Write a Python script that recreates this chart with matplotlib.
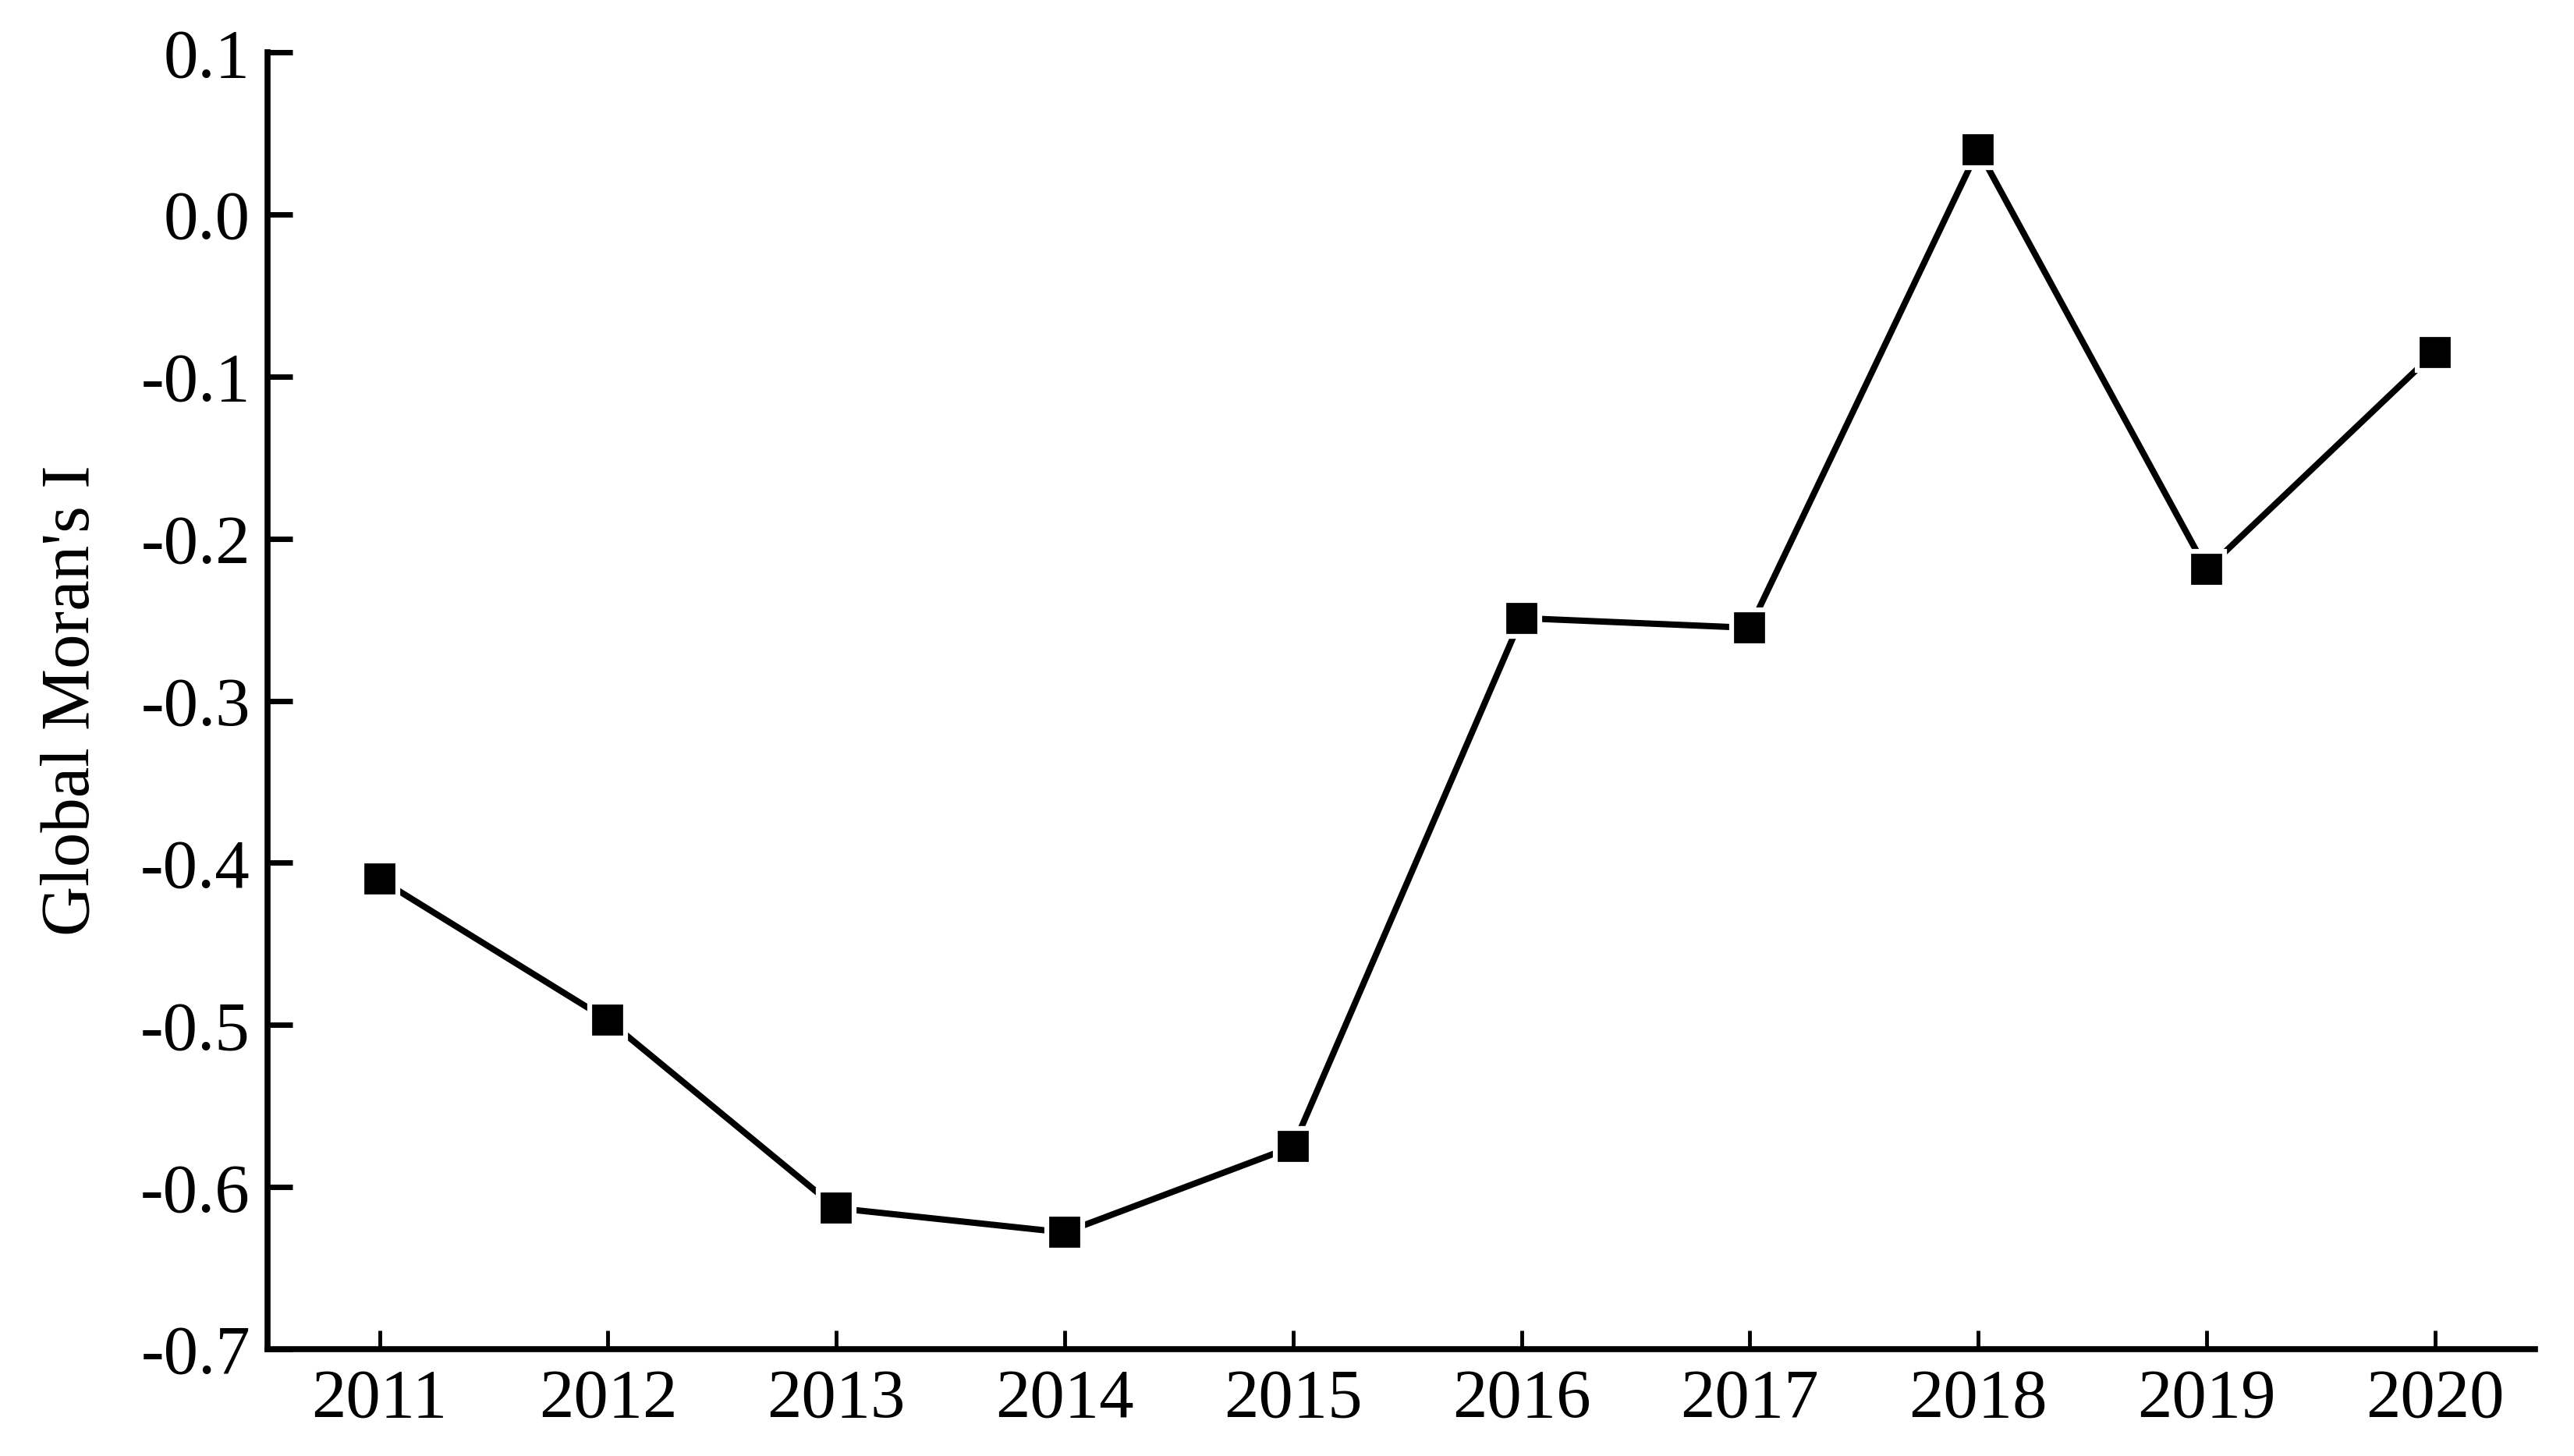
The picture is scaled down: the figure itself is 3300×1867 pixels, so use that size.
import numpy as np
import matplotlib.pyplot as plt

years = [2011, 2012, 2013, 2014, 2015, 2016, 2017, 2018, 2019, 2020]
morans_i = [-0.410, -0.497, -0.613, -0.628, -0.575, -0.249, -0.255, 0.040, -0.219, -0.085]
y_ticks = [0.1, 0.0, -0.1, -0.2, -0.3, -0.4, -0.5, -0.6, -0.7]


def main():
    plt.rcParams['font.family'] = ['Liberation Serif', 'DejaVu Serif']

    fig = plt.figure(figsize=(33, 18.67), dpi=100)
    ax = fig.add_axes([0.104, 0.0734, 0.881, 0.8906])

    # black squares with a white rim so the line stops short of them
    ax.plot(years, morans_i, color='black', lw=5.8, marker='s',
            markersize=33, markerfacecolor='black',
            markeredgecolor='white', markeredgewidth=4.5,
            solid_capstyle='round', clip_on=False)

    ax.set_xlim(2010.51, 2020.44)
    ax.set_ylim(-0.7, 0.1)
    ax.set_xticks(years)
    ax.set_xticklabels([str(y) for y in years])
    ax.set_yticks(y_ticks)
    ax.set_yticklabels(['%.1f' % v for v in y_ticks])

    for side in ['top', 'right']:
        ax.spines[side].set_visible(False)
    for side in ['left', 'bottom']:
        ax.spines[side].set_linewidth(5.5)

    ax.tick_params(axis='y', direction='in', length=23, width=5,
                   labelsize=64, pad=16)
    ax.tick_params(axis='x', direction='in', length=17, width=3.5,
                   labelsize=64, pad=18)

    ax.set_ylabel("Global Moran's I", fontsize=64, labelpad=34)

    fig.savefig('out.png', dpi=100)


if __name__ == '__main__':
    main()
